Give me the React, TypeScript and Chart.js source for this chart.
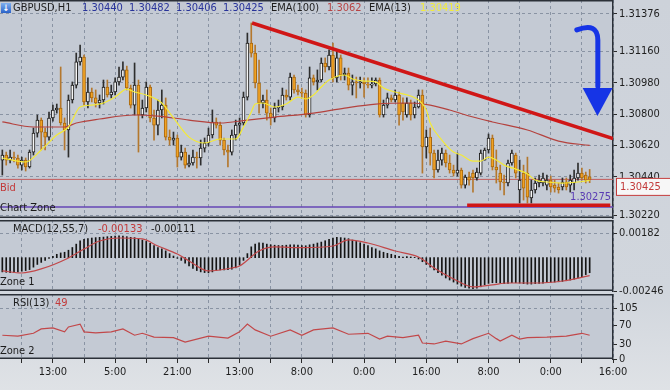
import React, { useEffect, useRef } from "react";
import { Chart, registerables } from "chart.js";

Chart.register(...registerables);

const FONT = "'DejaVu Sans Condensed', 'DejaVu Sans', sans-serif";
Chart.defaults.font.family = FONT;

// ---------- DATA ----------
const opens = [
  1.30536, 1.30565, 1.30536, 1.30553, 1.30548, 1.30507, 1.30536, 1.30496, 1.30582, 1.30691,
  1.30766, 1.30697, 1.30668, 1.30778, 1.30824, 1.30835, 1.30749, 1.30709, 1.30881, 1.30967,
  1.31100, 1.31128, 1.30870, 1.30927, 1.30893, 1.30864, 1.30881, 1.30956, 1.30910, 1.30927,
  1.30985, 1.31013, 1.31054, 1.30950, 1.30852, 1.30967, 1.30795, 1.30835, 1.30956, 1.30778,
  1.30737, 1.30824, 1.30852, 1.30668, 1.30651, 1.30663, 1.30553, 1.30582, 1.30507, 1.30519,
  1.30553, 1.30548, 1.30605, 1.30634, 1.30680, 1.30755, 1.30737, 1.30651, 1.30594, 1.30582,
  1.30680, 1.30737, 1.30749, 1.30898, 1.31209, 1.31151, 1.30979, 1.30864, 1.30881, 1.30806,
  1.30778, 1.30835, 1.30841, 1.30910, 1.30898, 1.31013, 1.30939, 1.30927, 1.30921, 1.30795,
  1.31008, 1.30985, 1.30996, 1.31094, 1.31071, 1.31140, 1.31008, 1.31123, 1.31025, 1.31036,
  1.30967, 1.30985, 1.30979, 1.30985, 1.30973, 1.30967, 1.30973, 1.30996, 1.30795, 1.30852,
  1.30893, 1.30881, 1.30910, 1.30864, 1.30795, 1.30864, 1.30795, 1.30841, 1.30910, 1.30611,
  1.30668, 1.30576, 1.30479, 1.30536, 1.30576, 1.30519, 1.30479, 1.30461, 1.30479, 1.30392,
  1.30438, 1.30461, 1.30433, 1.30461, 1.30536, 1.30594, 1.30663, 1.30496, 1.30461, 1.30410,
  1.30404, 1.30519, 1.30565, 1.30364, 1.30461, 1.30461, 1.30318, 1.30364, 1.30404, 1.30404,
  1.30392, 1.30421, 1.30392, 1.30381, 1.30381, 1.30410, 1.30392, 1.30404, 1.30433, 1.30461,
  1.30450, 1.30440,
];
const highs = [
  1.30594, 1.30582, 1.30594, 1.30582, 1.30565, 1.30553, 1.30548, 1.30594, 1.30720, 1.30795,
  1.30778, 1.30720, 1.30812, 1.30852, 1.30858, 1.31071, 1.30778, 1.30910, 1.30985, 1.31151,
  1.31197, 1.31140, 1.31008, 1.30950, 1.30939, 1.30910, 1.30996, 1.30996, 1.30967, 1.31008,
  1.31071, 1.31100, 1.31076, 1.30967, 1.31094, 1.30996, 1.30881, 1.30985, 1.30967, 1.30824,
  1.30881, 1.30939, 1.30893, 1.30709, 1.30697, 1.30680, 1.30622, 1.30605, 1.30565, 1.30594,
  1.30582, 1.30651, 1.30663, 1.30720, 1.30824, 1.30778, 1.30755, 1.30663, 1.30622, 1.30709,
  1.30766, 1.30778, 1.30927, 1.31266, 1.31324, 1.31197, 1.31111, 1.30910, 1.30939, 1.30835,
  1.30864, 1.30881, 1.30950, 1.30939, 1.31036, 1.31025, 1.30967, 1.30950, 1.30939, 1.31071,
  1.31025, 1.31054, 1.31123, 1.31123, 1.31169, 1.31209, 1.31169, 1.31140, 1.31065, 1.31065,
  1.31025, 1.31013, 1.31013, 1.31008, 1.31008, 1.31008, 1.31008, 1.31008, 1.30881, 1.30921,
  1.30910, 1.30939, 1.30927, 1.30893, 1.30893, 1.30881, 1.30870, 1.30939, 1.30939, 1.30709,
  1.30720, 1.30594, 1.30594, 1.30605, 1.30594, 1.30565, 1.30507, 1.30576, 1.30490, 1.30450,
  1.30467, 1.30479, 1.30490, 1.30594, 1.30605, 1.30686, 1.30680, 1.30594, 1.30507, 1.30450,
  1.30536, 1.30594, 1.30576, 1.30536, 1.30507, 1.30553, 1.30421, 1.30433, 1.30450, 1.30461,
  1.30450, 1.30444, 1.30421, 1.30404, 1.30433, 1.30433, 1.30450, 1.30479, 1.30519, 1.30490,
  1.30467, 1.30482,
];
const lows = [
  1.30450, 1.30507, 1.30519, 1.30525, 1.30490, 1.30479, 1.30473, 1.30490, 1.30565, 1.30668,
  1.30594, 1.30594, 1.30651, 1.30760, 1.30806, 1.30737, 1.30594, 1.30553, 1.30864, 1.30950,
  1.31082, 1.30852, 1.30835, 1.30870, 1.30841, 1.30835, 1.30858, 1.30898, 1.30893, 1.30910,
  1.30967, 1.30996, 1.30939, 1.30835, 1.30795, 1.30582, 1.30778, 1.30812, 1.30755, 1.30651,
  1.30680, 1.30778, 1.30651, 1.30622, 1.30622, 1.30496, 1.30536, 1.30490, 1.30496, 1.30507,
  1.30490, 1.30507, 1.30582, 1.30617, 1.30663, 1.30720, 1.30622, 1.30565, 1.30496, 1.30565,
  1.30651, 1.30680, 1.30737, 1.30881, 1.31128, 1.30950, 1.30806, 1.30835, 1.30766, 1.30737,
  1.30755, 1.30812, 1.30824, 1.30881, 1.30881, 1.30921, 1.30910, 1.30898, 1.30783, 1.30783,
  1.30967, 1.30939, 1.30985, 1.31042, 1.31054, 1.30985, 1.30985, 1.30996, 1.30996, 1.30939,
  1.30910, 1.30893, 1.30950, 1.30898, 1.30950, 1.30950, 1.30962, 1.30783, 1.30783, 1.30835,
  1.30870, 1.30870, 1.30737, 1.30766, 1.30783, 1.30766, 1.30778, 1.30835, 1.30461, 1.30548,
  1.30507, 1.30433, 1.30467, 1.30507, 1.30496, 1.30461, 1.30444, 1.30444, 1.30375, 1.30375,
  1.30392, 1.30352, 1.30421, 1.30450, 1.30536, 1.30576, 1.30479, 1.30404, 1.30364, 1.30335,
  1.30387, 1.30507, 1.30433, 1.30289, 1.30306, 1.30289, 1.30289, 1.30346, 1.30381, 1.30387,
  1.30364, 1.30352, 1.30352, 1.30346, 1.30364, 1.30364, 1.30352, 1.30364, 1.30421, 1.30421,
  1.30404, 1.30406,
];
const closes = [
  1.30565, 1.30536, 1.30553, 1.30548, 1.30507, 1.30536, 1.30496, 1.30582, 1.30691, 1.30766,
  1.30697, 1.30668, 1.30778, 1.30824, 1.30835, 1.30749, 1.30709, 1.30881, 1.30967, 1.31100,
  1.31128, 1.30870, 1.30927, 1.30893, 1.30864, 1.30881, 1.30956, 1.30910, 1.30927, 1.30985,
  1.31013, 1.31054, 1.30950, 1.30852, 1.30967, 1.30795, 1.30835, 1.30956, 1.30778, 1.30737,
  1.30824, 1.30852, 1.30668, 1.30651, 1.30663, 1.30553, 1.30582, 1.30507, 1.30519, 1.30553,
  1.30548, 1.30605, 1.30634, 1.30680, 1.30755, 1.30737, 1.30651, 1.30594, 1.30582, 1.30680,
  1.30737, 1.30749, 1.30898, 1.31209, 1.31151, 1.30979, 1.30864, 1.30881, 1.30806, 1.30778,
  1.30835, 1.30841, 1.30910, 1.30898, 1.31013, 1.30939, 1.30927, 1.30921, 1.30795, 1.31008,
  1.30985, 1.30996, 1.31094, 1.31071, 1.31140, 1.31008, 1.31123, 1.31025, 1.31036, 1.30967,
  1.30985, 1.30979, 1.30985, 1.30973, 1.30967, 1.30973, 1.30996, 1.30795, 1.30852, 1.30893,
  1.30881, 1.30910, 1.30795, 1.30812, 1.30864, 1.30795, 1.30841, 1.30910, 1.30611, 1.30668,
  1.30576, 1.30479, 1.30536, 1.30576, 1.30519, 1.30479, 1.30461, 1.30479, 1.30392, 1.30438,
  1.30421, 1.30433, 1.30467, 1.30576, 1.30594, 1.30663, 1.30496, 1.30479, 1.30410, 1.30404,
  1.30519, 1.30576, 1.30461, 1.30421, 1.30375, 1.30323, 1.30364, 1.30404, 1.30421, 1.30433,
  1.30421, 1.30381, 1.30375, 1.30364, 1.30410, 1.30381, 1.30421, 1.30433, 1.30461, 1.30433,
  1.30421, 1.30425,
];

const ema13Idx = [0, 6, 10, 14, 17, 20, 23, 26, 29, 32, 34, 37, 41, 44, 48, 52, 56, 60, 62, 64, 65, 67, 70, 73, 76, 78, 80, 82, 84, 88, 90, 93, 96, 98, 101, 105, 107, 109, 110, 113, 116, 118, 121, 123, 125, 127, 129, 132, 135, 137, 140, 144, 148, 151];
const ema13Val = [1.30548, 1.30525, 1.30594, 1.3068, 1.30726, 1.30841, 1.30852, 1.30864, 1.30898, 1.30944, 1.30927, 1.3091, 1.30864, 1.30778, 1.30668, 1.30634, 1.30657, 1.30657, 1.30726, 1.30812, 1.30858, 1.30864, 1.30841, 1.30858, 1.30898, 1.30887, 1.3091, 1.30956, 1.30996, 1.31025, 1.31002, 1.3099, 1.30985, 1.3095, 1.30927, 1.30904, 1.30881, 1.30824, 1.30749, 1.30651, 1.30582, 1.30565, 1.3053, 1.3053, 1.30553, 1.30536, 1.30507, 1.30484, 1.30456, 1.30421, 1.3041, 1.30404, 1.3041, 1.30419];

const ema100Idx = [0, 8, 16, 19, 25, 34, 40, 48, 56, 63, 70, 80, 88, 96, 105, 110, 115, 120, 126, 135, 143, 151];
const ema100Val = [1.30755, 1.30726, 1.30726, 1.30749, 1.30772, 1.30795, 1.30789, 1.30766, 1.30749, 1.30766, 1.30783, 1.30806, 1.30835, 1.30858, 1.30864, 1.30852, 1.30824, 1.30789, 1.30755, 1.30709, 1.30645, 1.3062];

const macdHist = [
  -0.00105, -0.00108, -0.0011, -0.00108, -0.00105, -0.001, -0.00095, -0.00088, -0.0007, -0.0005,
  -0.00035, -0.0002, -0.00005, 0.0001, 0.00025, 0.00035, 0.0004, 0.00055, 0.00075, 0.001,
  0.00125, 0.00135, 0.0014, 0.00145, 0.00148, 0.0015, 0.00152, 0.00155, 0.00157, 0.0016,
  0.00162, 0.0016, 0.00155, 0.0015, 0.00148, 0.0014, 0.0013, 0.0012, 0.00105, 0.0009,
  0.00075, 0.00065, 0.0005, 0.0003, 0.00012, -0.00005, -0.0002, -0.0004, -0.0006, -0.0008,
  -0.00095, -0.00105, -0.0011, -0.00112, -0.00105, -0.00095, -0.0009, -0.0009, -0.00088, -0.00085,
  -0.00075, -0.00055, -0.0002, 0.0003, 0.0008, 0.001, 0.0011, 0.00108, 0.001, 0.00095,
  0.00092, 0.0009, 0.0009, 0.00092, 0.00095, 0.00095, 0.00092, 0.0009, 0.00088, 0.00095,
  0.001, 0.00108, 0.00115, 0.00125, 0.00135, 0.00145, 0.0015, 0.00148, 0.00145, 0.0014,
  0.0013, 0.0012, 0.0011, 0.001, 0.0009, 0.00075, 0.00065, 0.0005, 0.0004, 0.00032,
  0.00025, 0.00018, 0.0001, 0.00005, 0.00008, 0.00005, 0.00002, -0.0001, -0.0003, -0.0005,
  -0.0007, -0.0009, -0.0011, -0.0013, -0.0015, -0.00165, -0.0018, -0.00195, -0.0021, -0.0022,
  -0.00225, -0.00228, -0.00225, -0.00215, -0.002, -0.0019, -0.00185, -0.00185, -0.00188, -0.00192,
  -0.0019, -0.00185, -0.00185, -0.00188, -0.00192, -0.00195, -0.00195, -0.00192, -0.0019, -0.00188,
  -0.00185, -0.00182, -0.0018, -0.00178, -0.00175, -0.0017, -0.00165, -0.00158, -0.0015, -0.0014,
  -0.00125, -0.00111,
];
const macdSigIdx = [0, 5, 10, 17, 21, 25, 30, 36, 40, 45, 48, 53, 59, 61, 66, 70, 77, 85, 89, 94, 101, 107, 111, 116, 121, 126, 130, 137, 144, 151];
const macdSigVal = [-0.00098, -0.00113, -0.00083, -0.00002, 0.00064, 0.00123, 0.00145, 0.00138, 0.00086, 0.00027, -0.00024, -0.00098, -0.00076, -0.00061, 0.00049, 0.00079, 0.00074, 0.00086, 0.00131, 0.00108, 0.00049, 0.00005, -0.00076, -0.00157, -0.00216, -0.00201, -0.00187, -0.00187, -0.00172, -0.00133];

const rsiIdx = [0, 4, 8, 10, 13, 16, 17, 20, 21, 24, 28, 31, 34, 36, 39, 44, 47, 53, 58, 61, 63, 65, 69, 74, 77, 80, 85, 89, 94, 97, 99, 103, 107, 108, 111, 114, 118, 121, 125, 127, 128, 131, 133, 135, 140, 145, 149, 151];
const rsiVal = [49, 47, 53, 62, 64, 56, 66, 72, 56, 54, 56, 62, 49, 53, 45, 44, 35, 47, 43, 56, 72, 60, 47, 60, 49, 60, 64, 51, 53, 41, 47, 44, 49, 33, 31, 37, 31, 42, 53, 42, 37, 49, 41, 44, 45, 47, 53, 49];

const priceTicks = [1.31376, 1.3116, 1.3098, 1.308, 1.3062, 1.3044, 1.3022];
const macdTicks = [0.00182, -0.00246];
const rsiTicks = [105, 70, 30, 0];
const gridIdx = [5, 13, 21, 29, 37, 45, 53, 61, 69, 77, 85, 93, 101, 109, 117, 125, 133, 141, 149, 157];
const timeLabelIdx = [13, 29, 45, 61, 77, 93, 109, 125, 141, 157];
const timeLabels = ["13:00", "5:00", "21:00", "13:00", "8:00", "0:00", "16:00", "8:00", "0:00", "16:00"];

const bidPrice = 1.30425;
const zonePrice = 1.30266;
const zoneLabel = "1.30275";
const trendIdx = [64.2, 157];
const trendVal = [1.31324, 1.3066];
const supportIdx = [119.5, 156.3];
const supportVal = [1.30277, 1.30277];
// curved arrow annotation: start, control, curve end, shaft end
const arrowIdx = [147.7, 153.1, 153.1, 153.1];
const arrowVal = [1.31284, 1.3133, 1.31226, 1.3096];
// arrow head: left, right, tip
const headIdx = [149.2, 156.9, 153.0];
const headVal = [1.3095, 1.3095, 1.30789];

// ---------- STYLE ----------
const X_MIN = -0.6;
const X_MAX = 157;
const PLOT_BG = "#c4cad4";
const GRID = "#8993a3";
const AXIS_W = 57;

const pts = (xs: number[], ys: number[]) => xs.map((x, k) => ({ x, y: ys[k] }));

const panelPlugin = {
  id: "panel",
  beforeDraw(chart: any) {
    const { ctx, chartArea: a } = chart;
    ctx.save();
    ctx.fillStyle = PLOT_BG;
    ctx.fillRect(a.left, a.top, a.right - a.left, a.bottom - a.top);
    ctx.restore();
  },
  afterDraw(chart: any) {
    const { ctx, chartArea: a } = chart;
    ctx.save();
    ctx.strokeStyle = "#2b3038";
    ctx.lineWidth = 1.5;
    ctx.beginPath();
    ctx.moveTo(a.left, a.top + 0.75);
    ctx.lineTo(a.right, a.top + 0.75);
    ctx.moveTo(a.left, a.bottom - 0.75);
    ctx.lineTo(a.right, a.bottom - 0.75);
    ctx.stroke();
    ctx.restore();
  },
};

const annotPlugin = {
  id: "annot",
  afterDatasetsDraw(chart: any) {
    const { ctx, chartArea: a } = chart;
    const xs = chart.scales.x;
    const ys = chart.scales.y;
    const X = (v: number) => xs.getPixelForValue(v);
    const Y = (v: number) => ys.getPixelForValue(v);
    ctx.save();
    // blue curved arrow
    ctx.strokeStyle = "#1634e6";
    ctx.fillStyle = "#1634e6";
    ctx.lineWidth = 5;
    ctx.lineCap = "round";
    ctx.beginPath();
    ctx.moveTo(X(arrowIdx[0]), Y(arrowVal[0]));
    ctx.quadraticCurveTo(X(arrowIdx[1]), Y(arrowVal[1]), X(arrowIdx[2]), Y(arrowVal[2]));
    ctx.lineTo(X(arrowIdx[3]), Y(arrowVal[3]));
    ctx.stroke();
    ctx.beginPath();
    ctx.moveTo(X(headIdx[0]), Y(headVal[0]));
    ctx.lineTo(X(headIdx[1]), Y(headVal[1]));
    ctx.lineTo(X(headIdx[2]), Y(headVal[2]));
    ctx.closePath();
    ctx.fill();
    // purple zone price label
    ctx.font = `11px ${FONT}`;
    ctx.fillStyle = "#5a3cb4";
    ctx.textAlign = "right";
    ctx.textBaseline = "middle";
    ctx.fillText(zoneLabel, a.right - 2, Y(zonePrice) - 10);
    // bid price box
    const by = Y(bidPrice);
    ctx.fillStyle = "#f7f7f7";
    ctx.fillRect(a.right + 3, by - 1.5, 60, 18);
    ctx.strokeStyle = "#c23a3a";
    ctx.lineWidth = 1;
    ctx.strokeRect(a.right + 3.5, by - 1, 60, 17);
    ctx.fillStyle = "#c23a3a";
    ctx.textAlign = "left";
    ctx.fillText(bidPrice.toFixed(5), a.right + 7, by + 7.5);
    ctx.restore();
  },
};

function xScale(showLabels: boolean, height: number) {
  return {
    type: "linear",
    min: X_MIN,
    max: X_MAX,
    offset: false,
    afterBuildTicks: (s: any) => {
      s.ticks = gridIdx.map((v) => ({ value: v }));
    },
    afterFit: (s: any) => {
      s.height = height;
      s.paddingLeft = 0;
      s.paddingRight = 0;
    },
    grid: {
      offset: false,
      color: GRID,
      lineWidth: 1,
      drawTicks: showLabels,
      tickLength: 4,
      tickColor: "#2a2a2a",
    },
    border: { display: false, dash: [3, 3] },
    ticks: {
      display: showLabels,
      autoSkip: false,
      maxRotation: 0,
      minRotation: 0,
      padding: 3,
      color: "#1e1e1e",
      font: { family: FONT, size: 11 },
      callback: (v: any) => {
        const k = timeLabelIdx.indexOf(Number(v));
        return k >= 0 ? timeLabels[k] : "";
      },
    },
  };
}

function yScale(min: number, max: number, ticks: number[], digits: number, gridAt: number[]) {
  return {
    type: "linear",
    position: "right",
    min,
    max,
    afterBuildTicks: (s: any) => {
      s.ticks = ticks.map((v) => ({ value: v }));
    },
    afterFit: (s: any) => {
      s.width = AXIS_W;
      s.paddingTop = 0;
      s.paddingBottom = 0;
    },
    grid: {
      color: (c: any) => (c.tick && gridAt.indexOf(c.tick.value) >= 0 ? GRID : "rgba(0,0,0,0)"),
      lineWidth: 1,
      drawTicks: true,
      tickLength: 4,
      tickColor: "#2a2a2a",
    },
    border: { display: true, color: "#2b3038", width: 1.5, dash: [3, 3] },
    ticks: {
      color: "#1e1e1e",
      padding: 2,
      font: { family: FONT, size: 11 },
      callback: (v: any) => Number(v).toFixed(digits),
    },
  };
}

const baseOptions = (padBottom: number) => ({
  responsive: false,
  animation: false,
  events: [],
  layout: { padding: { left: 0, right: 0, top: 0, bottom: padBottom } },
  plugins: { legend: { display: false }, tooltip: { enabled: false } },
});

export default function App() {
  const mainRef = useRef<HTMLCanvasElement>(null);
  const macdRef = useRef<HTMLCanvasElement>(null);
  const rsiRef = useRef<HTMLCanvasElement>(null);

  useEffect(() => {
    const idx = closes.map((_, i) => i);
    const bull = (i: number) => closes[i] >= opens[i];

    const main = new Chart(mainRef.current as any, {
      type: "bar",
      data: {
        datasets: [
          {
            type: "line",
            label: "Trend",
            data: pts(trendIdx, trendVal),
            borderColor: "#d01616",
            borderWidth: 3.5,
            pointRadius: 0,
            order: 0,
          },
          {
            type: "line",
            label: "Support",
            data: pts(supportIdx, supportVal),
            borderColor: "#d01616",
            borderWidth: 3.5,
            pointRadius: 0,
            order: 0,
          },
          {
            type: "line",
            label: "EMA(13)",
            data: pts(ema13Idx, ema13Val),
            borderColor: "#f4ea36",
            borderWidth: 1.2,
            pointRadius: 0,
            cubicInterpolationMode: "monotone",
            order: 1,
          },
          {
            type: "line",
            label: "EMA(100)",
            data: pts(ema100Idx, ema100Val),
            borderColor: "#b4423e",
            borderWidth: 1.2,
            pointRadius: 0,
            cubicInterpolationMode: "monotone",
            order: 1,
          },
          {
            type: "bar",
            label: "Body",
            data: idx.map((i) => ({ x: i, y: [opens[i], closes[i]] })),
            backgroundColor: idx.map((i) => (bull(i) ? "#f6f6f6" : "#f2a324")),
            borderColor: idx.map((i) => (bull(i) ? "#1a1a1a" : "#a8680e")),
            borderWidth: 1,
            borderSkipped: false,
            barThickness: 3,
            minBarLength: 1,
            grouped: false,
            order: 2,
          },
          {
            type: "bar",
            label: "Wick",
            data: idx.map((i) => ({ x: i, y: [lows[i], highs[i]] })),
            backgroundColor: idx.map((i) => (bull(i) ? "#2e2e2e" : "#b4782e")),
            barThickness: 1,
            grouped: false,
            order: 3,
          },
          {
            type: "line",
            label: "Bid",
            data: pts([X_MIN, X_MAX], [bidPrice, bidPrice]),
            borderColor: "#c45a5a",
            borderWidth: 1,
            pointRadius: 0,
            order: 5,
          },
          {
            type: "line",
            label: "Chart Zone",
            data: pts([X_MIN, X_MAX], [zonePrice, zonePrice]),
            borderColor: "#6646b6",
            borderWidth: 1.5,
            pointRadius: 0,
            order: 5,
          },
        ],
      },
      options: {
        ...baseOptions(8),
        scales: {
          x: xScale(false, 0),
          y: yScale(1.30203, 1.31456, priceTicks, 5, priceTicks),
        },
      } as any,
      plugins: [panelPlugin, annotPlugin],
    } as any);

    const macd = new Chart(macdRef.current as any, {
      type: "bar",
      data: {
        datasets: [
          {
            type: "line",
            label: "Signal",
            data: pts(macdSigIdx, macdSigVal),
            borderColor: "#c2484a",
            borderWidth: 1.2,
            pointRadius: 0,
            cubicInterpolationMode: "monotone",
            order: 0,
          },
          {
            type: "bar",
            label: "MACD",
            data: idx.map((i) => ({ x: i, y: macdHist[i] })),
            backgroundColor: "#141414",
            barThickness: 1,
            grouped: false,
            order: 1,
          },
        ],
      },
      options: {
        ...baseOptions(9),
        scales: {
          x: xScale(false, 0),
          y: yScale(-0.00246, 0.00278, macdTicks, 5, [0.00182]),
        },
      } as any,
      plugins: [panelPlugin],
    } as any);

    const rsi = new Chart(rsiRef.current as any, {
      type: "line",
      data: {
        datasets: [
          {
            label: "RSI(13)",
            data: pts(rsiIdx, rsiVal),
            borderColor: "#c2484a",
            borderWidth: 1.2,
            pointRadius: 0,
          },
        ],
      },
      options: {
        ...baseOptions(0),
        scales: {
          x: xScale(true, 31),
          y: yScale(0, 134, rsiTicks, 0, [105]),
        },
      } as any,
      plugins: [panelPlugin],
    } as any);

    return () => {
      main.destroy();
      macd.destroy();
      rsi.destroy();
    };
  }, []);

  const txt = (left: number, top: number, color: string, s: string, size = 11) => (
    <span
      style={{
        position: "absolute",
        left,
        top,
        color,
        font: `${size}px ${FONT}`,
        lineHeight: "12px",
        whiteSpace: "nowrap",
      }}
    >
      {s}
    </span>
  );

  return (
    <div
      style={{
        position: "fixed",
        left: 0,
        top: 0,
        width: 670,
        height: 390,
        overflow: "hidden",
        background: "linear-gradient(to bottom, #cdd2da 0%, #d1d6dd 75%, #dfe2e6 100%)",
      }}
    >
      <canvas ref={mainRef} width={670} height={226} style={{ position: "absolute", left: 0, top: 0 }} />
      <canvas ref={macdRef} width={670} height={80} style={{ position: "absolute", left: 0, top: 220 }} />
      <canvas ref={rsiRef} width={670} height={96} style={{ position: "absolute", left: 0, top: 294 }} />

      <div
        style={{
          position: "absolute",
          left: 1,
          top: 3,
          width: 10,
          height: 10,
          background: "linear-gradient(#7fb0f0, #2a62c8)",
          color: "#fff",
          font: `bold 9px ${FONT}`,
          lineHeight: "10px",
          textAlign: "center",
        }}
      >
        ↓
      </div>
      {txt(13, 2, "#1c1c1c", "GBPUSD,H1")}
      {txt(82, 2, "#28339a", "1.30440")}
      {txt(129, 2, "#28339a", "1.30482")}
      {txt(176, 2, "#28339a", "1.30406")}
      {txt(223, 2, "#28339a", "1.30425")}
      {txt(271, 2, "#1c1c1c", "EMA(100)")}
      {txt(327, 2, "#b84444", "1.3062")}
      {txt(369, 2, "#1c1c1c", "EMA(13)")}
      {txt(420, 2, "#f2ec3c", "1.30419")}

      {txt(0, 182, "#c23a3a", "Bid")}
      {txt(0, 202, "#1c1c1c", "Chart Zone")}

      {txt(13, 223, "#1c1c1c", "MACD(12,55,7)")}
      {txt(98, 223, "#c23a3a", "-0.00133")}
      {txt(151, 223, "#1c1c1c", "-0.00111")}
      {txt(0, 276, "#1c1c1c", "Zone 1")}

      {txt(13, 297, "#1c1c1c", "RSI(13)")}
      {txt(55, 297, "#c23a3a", "49")}
      {txt(0, 345, "#1c1c1c", "Zone 2")}
    </div>
  );
}
